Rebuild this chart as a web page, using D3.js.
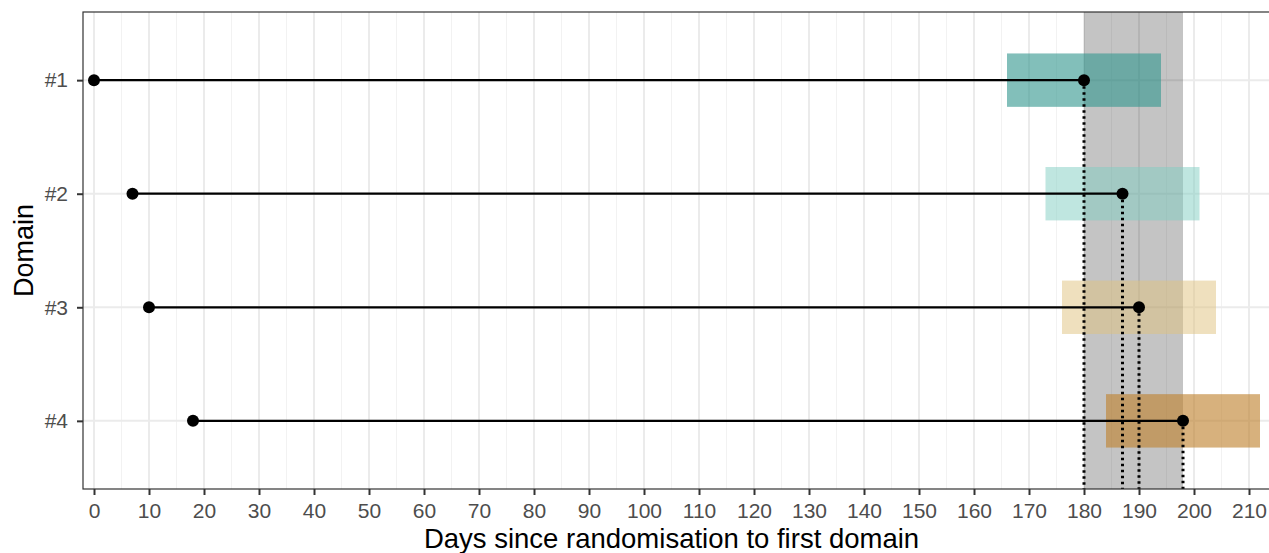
<!DOCTYPE html>
<html>
<head>
<meta charset="utf-8">
<script src="https://cdn.jsdelivr.net/npm/d3@7"></script>
<style>
  body { margin: 0; background: #fff; }
  svg { font-family: "Liberation Sans", Arial, sans-serif; display: block; }
</style>
</head>
<body>
<svg id="chart" width="1269" height="553"></svg>
<script>
// data
var domains = ['#1', '#2', '#3', '#4']
var startDays = [0, 7, 10, 18]
var endDays = [180, 187, 190, 198]
var windowHalf = [14, 14, 14, 14]
var boxColors = ['#35978f', '#80cdc1', '#dfc27d', '#bf812d']
var boxAlpha = [0.62, 0.5, 0.5, 0.62]
var bandRange = [180, 198]
var xTicks = d3.range(0, 211, 10)

var margin = { top: 12, right: -2, bottom: 64, left: 83 }
var width = 1269 - margin.left - margin.right
var height = 553 - margin.top - margin.bottom

var x = d3.scaleLinear().domain([-2, 214]).range([0, width])
var y = d3.scalePoint().domain(domains).range([0, height]).padding(0.6)

var svg = d3.select('#chart')
var g = svg.append('g')
  .attr('transform', 'translate(' + margin.left + ',' + margin.top + ')')

// minor grid
g.append('g').selectAll('line')
  .data(d3.range(5, 214, 10))
  .enter().append('line')
  .attr('x1', d => x(d)).attr('x2', d => x(d))
  .attr('y1', 0).attr('y2', height)
  .attr('stroke', '#f2f2f2').attr('stroke-width', 1)

// major grid
g.append('g').selectAll('line')
  .data(xTicks)
  .enter().append('line')
  .attr('x1', d => x(d)).attr('x2', d => x(d))
  .attr('y1', 0).attr('y2', height)
  .attr('stroke', '#ebebeb').attr('stroke-width', 2)

g.append('g').selectAll('line')
  .data(domains)
  .enter().append('line')
  .attr('x1', 0).attr('x2', width)
  .attr('y1', d => y(d)).attr('y2', d => y(d))
  .attr('stroke', '#ebebeb').attr('stroke-width', 2)

// grey band
g.append('rect')
  .attr('x', x(bandRange[0]))
  .attr('width', x(bandRange[1]) - x(bandRange[0]))
  .attr('y', 0).attr('height', height)
  .attr('fill', '#000').attr('fill-opacity', 0.23)

var rows = domains.map(function(d, i) {
  return { name: d, start: startDays[i], end: endDays[i], half: windowHalf[i], color: boxColors[i], alpha: boxAlpha[i] }
})

var boxH = y.step() * 0.47

// windows
g.append('g').selectAll('rect')
  .data(rows)
  .enter().append('rect')
  .attr('x', d => x(d.end - d.half))
  .attr('width', d => x(d.end + d.half) - x(d.end - d.half))
  .attr('y', d => y(d.name) - boxH / 2)
  .attr('height', boxH)
  .attr('fill', d => d.color)
  .attr('fill-opacity', d => d.alpha)

// dotted drop lines
g.append('g').selectAll('line')
  .data(rows)
  .enter().append('line')
  .attr('x1', d => x(d.end)).attr('x2', d => x(d.end))
  .attr('y1', d => y(d.name)).attr('y2', height)
  .attr('stroke', '#000').attr('stroke-width', 3)
  .attr('stroke-dasharray', '2.5,3.5')

// segments
g.append('g').selectAll('line')
  .data(rows)
  .enter().append('line')
  .attr('x1', d => x(d.start)).attr('x2', d => x(d.end))
  .attr('y1', d => y(d.name)).attr('y2', d => y(d.name))
  .attr('stroke', '#000').attr('stroke-width', 2.2)

var pts = []
rows.forEach(function(d) {
  pts.push({ v: d.start, name: d.name })
  pts.push({ v: d.end, name: d.name })
})
g.append('g').selectAll('circle')
  .data(pts)
  .enter().append('circle')
  .attr('cx', d => x(d.v)).attr('cy', d => y(d.name))
  .attr('r', 6).attr('fill', '#000')

// panel border
g.append('rect')
  .attr('x', 0).attr('y', 0).attr('width', width).attr('height', height)
  .attr('fill', 'none').attr('stroke', '#333').attr('stroke-width', 1.2)

// axes
var xAxis = g.append('g')
  .attr('transform', 'translate(0,' + height + ')')
  .call(d3.axisBottom(x).tickValues(xTicks).tickSize(6).tickPadding(8))
xAxis.select('.domain').remove()
xAxis.selectAll('line').attr('stroke', '#333').attr('stroke-width', 2)
xAxis.selectAll('text').attr('fill', '#4d4d4d').style('font-size', '21px')

var yAxis = g.append('g')
  .call(d3.axisLeft(y).tickSize(6).tickPadding(9))
yAxis.select('.domain').remove()
yAxis.selectAll('line').attr('stroke', '#333').attr('stroke-width', 2)
yAxis.selectAll('text').attr('fill', '#4d4d4d').style('font-size', '21px')

// titles
svg.append('text')
  .attr('x', margin.left + x(105))
  .attr('y', 548)
  .attr('text-anchor', 'middle')
  .style('font-size', '27.5px')
  .attr('fill', '#000')
  .text('Days since randomisation to first domain')

svg.append('text')
  .attr('transform', 'translate(33,' + (margin.top + height / 2) + ') rotate(-90)')
  .attr('text-anchor', 'middle')
  .style('font-size', '27px')
  .attr('fill', '#000')
  .text('Domain')
</script>
</body>
</html>
